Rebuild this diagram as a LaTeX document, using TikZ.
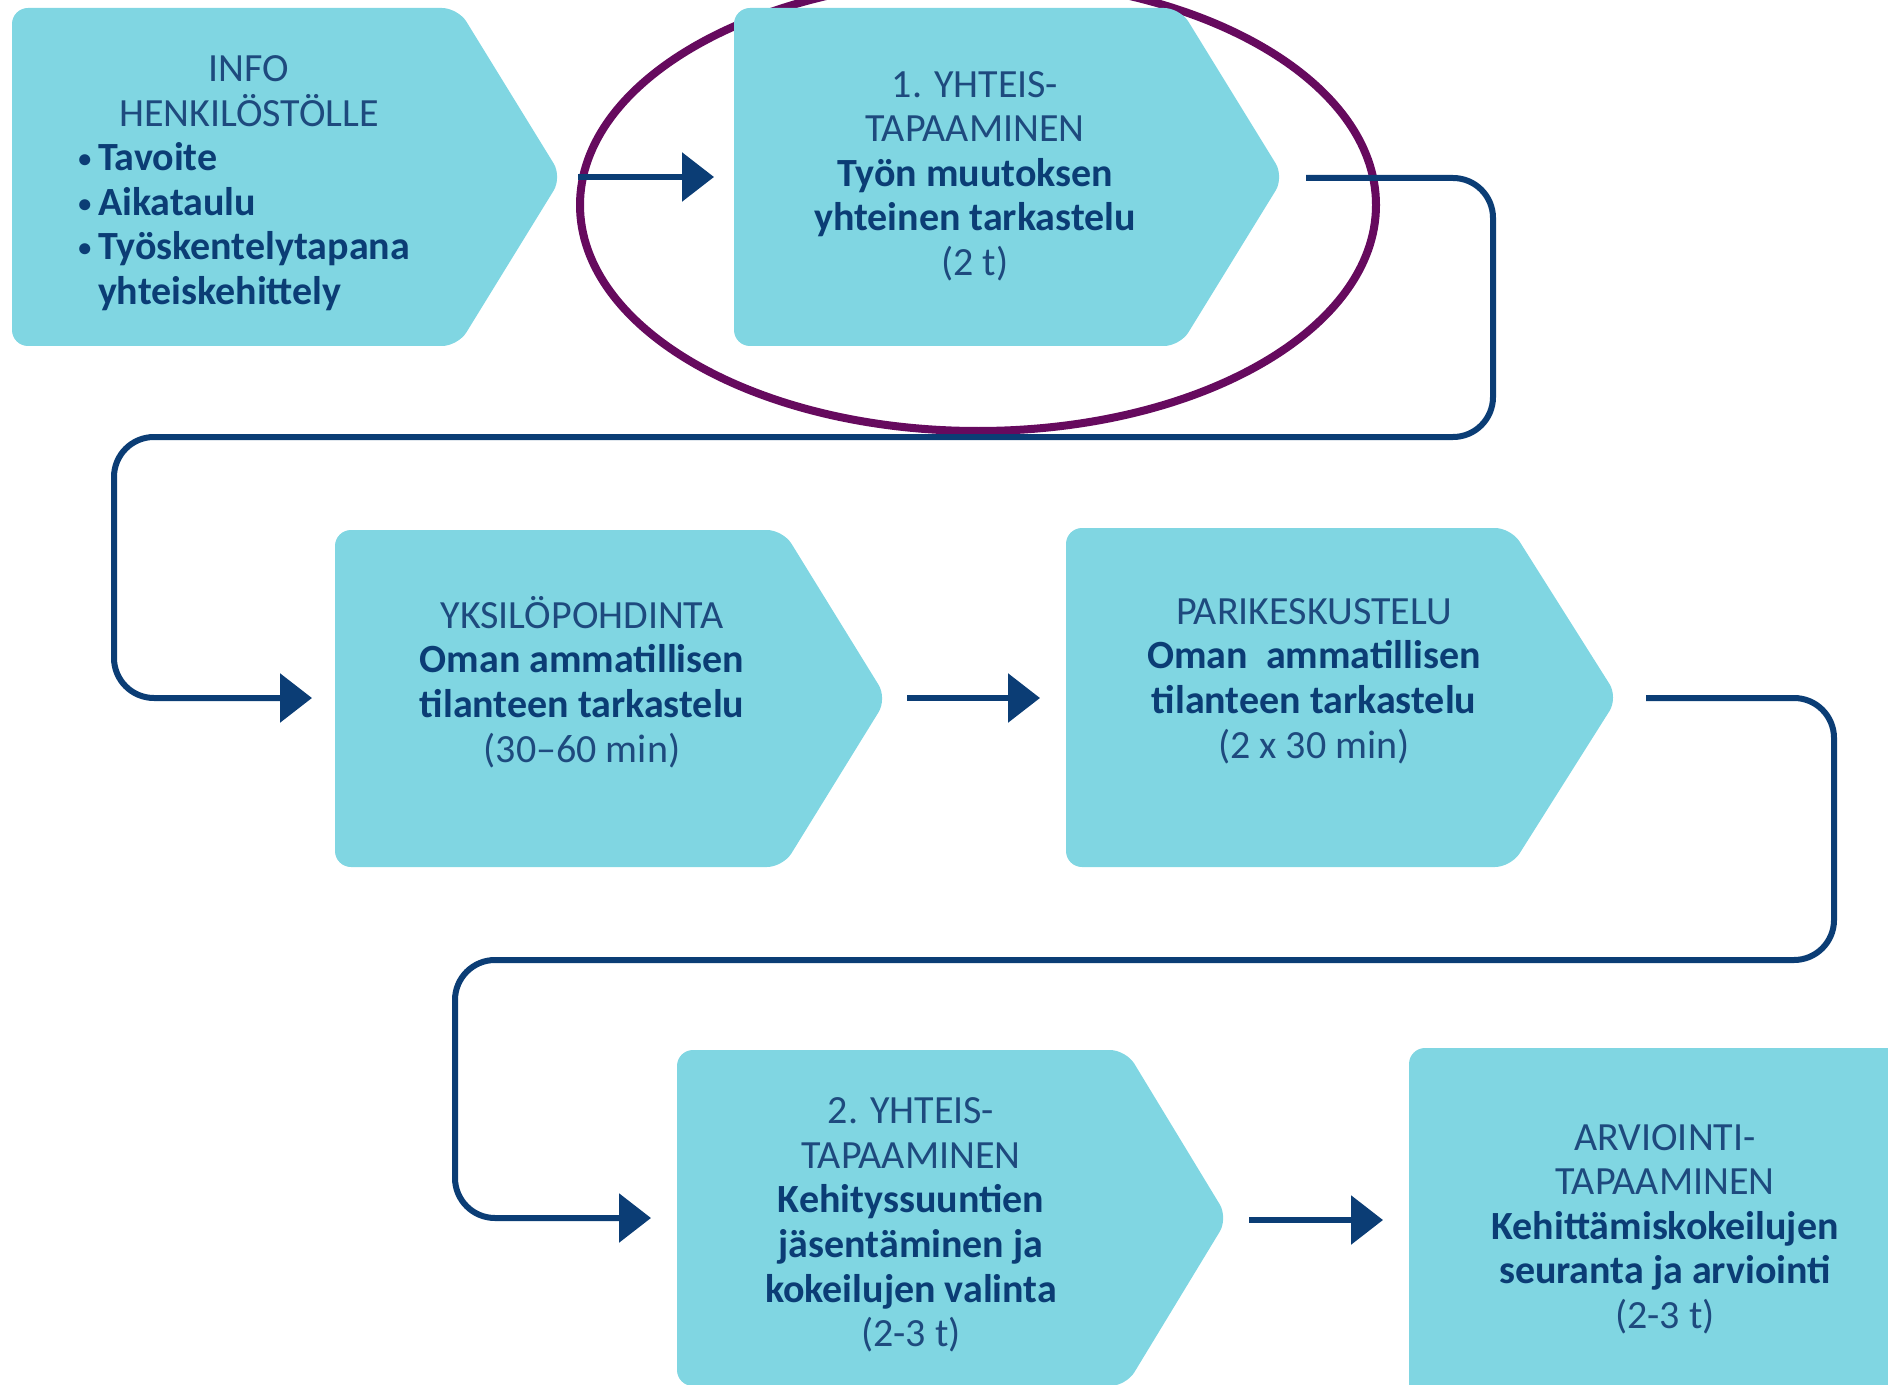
\documentclass[tikz,border=0pt]{standalone}
\usepackage{fontspec}
\setmainfont{Carlito}
\usetikzlibrary{arrows.meta}
\definecolor{boxfill}{HTML}{80D6E2}
\definecolor{navy}{HTML}{0B3D75}
\definecolor{lightnavy}{HTML}{1E4A7E}
\definecolor{ringcol}{HTML}{660A5E}
\tikzset{
  chev/.style={fill=boxfill, rounded corners=8pt},
  conn/.style={draw=navy, line width=3pt, rounded corners=20pt, -{Triangle[length=16pt,width=24pt]}},
  flow/.style={draw=navy, line width=3pt, -{Triangle[length=16pt,width=24pt]}},
  txt/.style={text=navy, align=center, font=\fontsize{20}{22.3}\selectfont, inner sep=0pt},
}
\newcommand{\lcap}[1]{{\color{lightnavy}#1}}
\newcommand{\mybul}{{\fontsize{13}{13}\selectfont\raisebox{0.22ex}{•}}\,}
\newcommand{\mychev}[5]{\fill[chev] (#1,#2) -- (#3,#2) -- (#4,{(#2+#5)/2}) -- (#3,#5) -- (#1,#5) -- cycle;}
\begin{document}
\begin{tikzpicture}[x=0.5pt,y=-0.5pt]
\useasboundingbox (0,0) rectangle (1888,1385);
% highlight ring
\draw[ringcol, line width=4pt] (978,205) ellipse [x radius=398, y radius=226];
% boxes
\mychev{12}{8}{458}{562}{346}
\mychev{734}{8}{1180}{1284}{346}
\mychev{335}{530}{783}{887}{867}
\mychev{1066}{528}{1511}{1618}{867}
\mychev{677}{1050}{1126}{1228}{1386}
\fill[chev] (1409,1048) rectangle (1960,1450);
% texts
\node[txt] (t1a) at (249,91) {\lcap{INFO}\\ \lcap{HENKILÖSTÖLLE}};
\node[txt, anchor=north west, align=left, font=\bfseries\fontsize{20}{22.3}\selectfont] (t1b) at (78,142)
  {\mybul Tavoite\\ \mybul Aikataulu\\ \mybul Työskentelytapana\\ \hphantom{\mybul}yhteiskehittely};
\node[txt] (t2) at (975,176) {\lcap{1. YHTEIS-}\\ \lcap{TAPAAMINEN}\\ \textbf{Työn muutoksen}\\ \textbf{yhteinen tarkastelu}\\ \lcap{(2 t)}};
\node[txt] (t3) at (582,682) {\lcap{YKSILÖPOHDINTA}\\ \textbf{Oman ammatillisen}\\ \textbf{tilanteen tarkastelu}\\ \lcap{(30–60 min)}};
\node[txt] (t4) at (1314,681) {\lcap{PARIKESKUSTELU}\\ \textbf{Oman\ \ ammatillisen}\\ \textbf{tilanteen tarkastelu}\\ \lcap{(2 x 30 min)}};
\node[txt] (t5) at (911,1225) {\lcap{2. YHTEIS-}\\ \lcap{TAPAAMINEN}\\ \textbf{Kehityssuuntien}\\ \textbf{jäsentäminen ja}\\ \textbf{kokeilujen valinta}\\ \lcap{(2-3 t)}};
\node[txt] (t6) at (1665,1229) {\lcap{ARVIOINTI-}\\ \lcap{TAPAAMINEN}\\ \textbf{Kehittämiskokeilujen}\\ \textbf{seuranta ja arviointi}\\ \lcap{(2-3 t)}};
% connector points
\coordinate (b1out) at (578,177);
\coordinate (b2in) at (714,177);
\coordinate (b2out) at (1306,178);
\coordinate (b3in) at (312,698);
\coordinate (b3out) at (907,698);
\coordinate (b4in) at (1040,698);
\coordinate (b4out) at (1646,698);
\coordinate (b5in) at (651,1218);
\coordinate (b5out) at (1249,1220);
\coordinate (b6in) at (1383,1220);
% connectors
\draw[flow] (b1out) -- (b2in);
\draw[conn] (b2out) -- (1493,178) -- (1493,437) -- (114,437) -- (114,698) -- (b3in);
\draw[flow] (b3out) -- (b4in);
\draw[conn] (b4out) -- (1834,698) -- (1834,960) -- (455,960) -- (455,1218) -- (b5in);
\draw[flow] (b5out) -- (b6in);
\end{tikzpicture}
\end{document}
